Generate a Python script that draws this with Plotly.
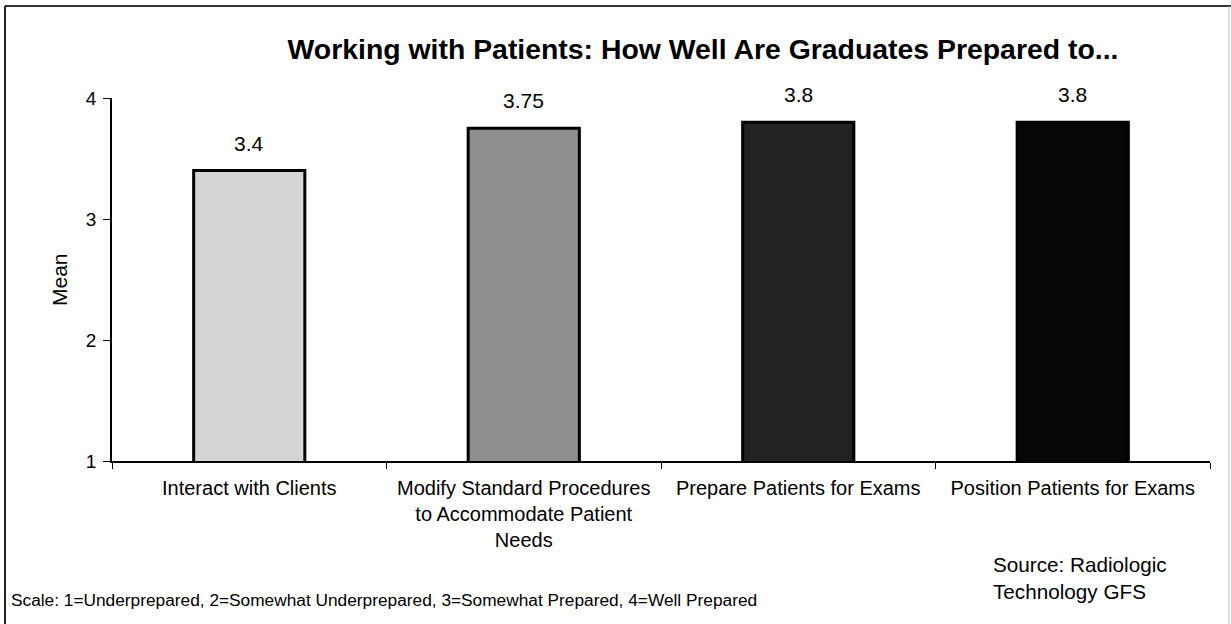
import plotly.graph_objects as go

categories = [
    "Interact with Clients",
    "Modify Standard Procedures<br>to Accommodate Patient<br>Needs",
    "Prepare Patients for Exams",
    "Position Patients for Exams",
]
means = [3.4, 3.75, 3.8, 3.8]
value_labels = ["3.4", "3.75", "3.8", "3.8"]
bar_colors = ["#d4d4d4", "#8e8e8e", "#222222", "#060606"]
y_ticks = [1, 2, 3, 4]

W, H = 1231, 624
L, R, T, B = 112, 21, 98, 163
pw, ph = W - L - R, H - T - B

def px(x):
    return (x - L) / pw

def py(y):
    return (H - B - y) / ph

FONT = "Liberation Sans, Arial, sans-serif"

fig = go.Figure()
fig.add_trace(go.Bar(
    x=categories,
    y=means,
    marker=dict(color=bar_colors, line=dict(color="#000000", width=3)),
    width=0.405,
    hoverinfo="skip",
))

for c, v, t in zip(categories, means, value_labels):
    fig.add_annotation(x=c, y=v, text=t, showarrow=False, xref="x", yref="y",
                       xanchor="center", yanchor="bottom", yshift=14,
                       font=dict(family=FONT, size=21, color="#000"))

fig.add_annotation(x=px(59), y=py(280), xref="paper", yref="paper", text="Mean",
                   textangle=-90, showarrow=False, xanchor="center", yanchor="middle",
                   font=dict(family=FONT, size=21, color="#000"))
fig.add_annotation(x=px(9), y=py(600), xref="paper", yref="paper",
                   text="Scale: 1=Underprepared, 2=Somewhat Underprepared, 3=Somewhat Prepared, 4=Well Prepared",
                   xanchor="left", yanchor="middle", showarrow=False,
                   font=dict(family=FONT, size=17.3, color="#000"))
fig.add_annotation(x=px(991), y=py(578), xref="paper", yref="paper",
                   text="Source: Radiologic<br>Technology GFS", align="left",
                   xanchor="left", yanchor="middle", showarrow=False,
                   font=dict(family=FONT, size=20.7, color="#000"))

# outer frame (left/top dark, right faint)
fig.add_shape(type="line", xref="paper", yref="paper",
              x0=px(5), x1=px(5), y0=py(630), y1=py(6),
              line=dict(color="#222222", width=2), layer="below")
fig.add_shape(type="line", xref="paper", yref="paper",
              x0=px(5), x1=px(1240), y0=py(6), y1=py(6),
              line=dict(color="#333333", width=2), layer="below")
fig.add_shape(type="line", xref="paper", yref="paper",
              x0=px(1229), x1=px(1229), y0=py(630), y1=py(6),
              line=dict(color="#bbbbbb", width=1), layer="below")

fig.update_layout(
    width=W, height=H,
    margin=dict(l=L, r=R, t=T, b=B),
    paper_bgcolor="white", plot_bgcolor="white",
    showlegend=False,
    title=dict(text="<b>Working with Patients: How Well Are Graduates Prepared to...</b>",
               x=px(703), xanchor="center", xref="paper",
               y=1 - 49 / H, yanchor="middle", yref="container",
               font=dict(family=FONT, size=28.4, color="#000")),
    font=dict(family=FONT, color="#000"),
)
fig.update_xaxes(showline=True, linecolor="#000", linewidth=1.5,
                 ticks="outside", tickson="boundaries", ticklen=6, tickcolor="#000",
                 tickfont=dict(family=FONT, size=20, color="#000"),
                 ticklabelstandoff=8,
                 showgrid=False, zeroline=False, tickangle=0)
fig.update_yaxes(range=[1, 4], tickvals=y_ticks, showline=True, linecolor="#000",
                 linewidth=1.5, ticks="outside", ticklen=7, tickcolor="#000",
                 tickfont=dict(family=FONT, size=19, color="#000"),
                 ticklabelstandoff=3,
                 showgrid=False, zeroline=False)

fig.write_html("out.html", config={"displayModeBar": False},
               post_script="document.body.style.margin='0';")
